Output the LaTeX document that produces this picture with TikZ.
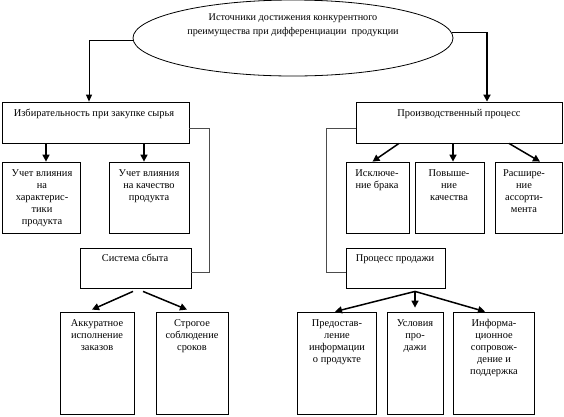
\documentclass[tikz,border=0pt]{standalone}
\usepackage{fontspec}
\setmainfont{Liberation Serif}
\usetikzlibrary{shapes.geometric,arrows.meta,calc}
\begin{document}
\begin{tikzpicture}[x=1pt,y=-1pt,
  box/.style={draw=black,line width=0.8pt,rectangle,inner sep=0pt},
  txt/.style={anchor=north,inner sep=0pt,align=center,font=\fontsize{10.4}{12}\selectfont},
  arr/.style={line width=1.5pt,-{Triangle[length=7pt,width=7pt]}},
  arrthin/.style={line width=0.9pt,-{Triangle[length=7pt,width=6pt]}},
  arrthick/.style={line width=1.8pt,-{Triangle[length=7pt,width=7pt]}},
  side/.style={draw=black!70,line width=0.8pt}]
\useasboundingbox (0,0) rectangle (564,416);
% ellipse
\node[draw=black,line width=0.8pt,ellipse,minimum width=320pt,minimum height=76pt,inner sep=0pt] (E) at (293,38) {};
\node[inner sep=0pt,align=center,font=\fontsize{10.2}{14}\selectfont,anchor=north] (Et) at (293,14) {Источники достижения конкурентного\\преимущества при дифференциации\ \ продукции};
% boxes: center, size
\node[box,minimum width=187pt,minimum height=41pt] (L) at (95.5,122.5) {};
\node[box,minimum width=206pt,minimum height=41pt] (R) at (459,122.5) {};
\node[box,minimum width=78pt,minimum height=71pt] (L1) at (41,197.5) {};
\node[box,minimum width=80pt,minimum height=71pt] (L2) at (149,197.5) {};
\node[box,minimum width=111pt,minimum height=40pt] (S) at (135.5,268) {};
\node[box,minimum width=74pt,minimum height=102pt] (S1) at (97,363) {};
\node[box,minimum width=72pt,minimum height=102pt] (S2) at (192,363) {};
\node[box,minimum width=63pt,minimum height=71pt] (R1) at (377.5,197.5) {};
\node[box,minimum width=69pt,minimum height=71pt] (R2) at (449.5,197.5) {};
\node[box,minimum width=67pt,minimum height=71pt] (R3) at (528.5,197.5) {};
\node[box,minimum width=99pt,minimum height=40pt] (P) at (395.5,268) {};
\node[box,minimum width=79pt,minimum height=102pt] (P1) at (336.5,363) {};
\node[box,minimum width=56pt,minimum height=102pt] (P2) at (415,363) {};
\node[box,minimum width=81pt,minimum height=102pt] (P3) at (493.5,363) {};
% texts
\node[txt] (Lt) at (94,109) {Избирательность при закупке сырья};
\node[txt] (Rt) at (459,109) {Производственный процесс};
\node[txt] (L1t) at (42,169) {Учет влияния\\на\\характерис-\\тики\\продукта};
\node[txt] (L2t) at (149,169) {Учет влияния\\на качество\\продукта};
\node[txt] (St) at (135,254) {Система сбыта};
\node[txt] (S1t) at (97,319) {Аккуратное\\исполнение\\заказов};
\node[txt] (S2t) at (192,319) {Строгое\\соблюдение\\сроков};
\node[txt] (R1t) at (377,169) {Исключе-\\ние брака};
\node[txt] (R2t) at (449,169) {Повыше-\\ние\\качества};
\node[txt] (R3t) at (524,169) {Расшире-\\ние\\ассорти-\\мента};
\node[txt] (Pt) at (395,254) {Процесс продажи};
\node[txt] (P1t) at (337,319) {Предостав-\\ление\\информации\\о продукте};
\node[txt] (P2t) at (415,319) {Условия\\про-\\дажи};
\node[txt] (P3t) at (494,319) {Информа-\\ционное\\сопровож-\\дение и\\поддержка};
% ellipse connectors
\draw[arrthin] (E.181.4) -| ([xshift=-6.5pt]L.north);
\draw[arrthick] (E.2.2) -| ([xshift=28pt]R.north);
% side connectors
\draw[side] ([yshift=-5.5pt]L.east) -- ++(20,0) |- ([yshift=-4pt]S.east);
\draw[side] ([yshift=-5.5pt]R.west) -- ++(-29,0) |- ([yshift=-4pt]P.west);
% arrows L
\draw[arr] ([xshift=5pt]L1.north |- L.south) -- ([xshift=5pt]L1.north);
\draw[arr] ([xshift=-5pt]L2.north |- L.south) -- ([xshift=-5pt]L2.north);
% arrows R
\draw[arr] ([xshift=-60pt]R.south) -- ([xshift=-5pt]R1.north);
\draw[arr] ([xshift=3.5pt]R2.north |- R.south) -- ([xshift=3.5pt]R2.north);
\draw[arr] ([xshift=50pt]R.south) -- ([xshift=11.5pt]R3.north);
% arrows S
\draw[arr] ([xshift=-2.5pt,yshift=-3pt]S.south) -- ([xshift=-5pt,yshift=2pt]S1.north);
\draw[arr] ([xshift=7.5pt,yshift=-3pt]S.south) -- ([xshift=-5pt,yshift=2pt]S2.north);
% arrows P
\draw[arr] ([xshift=19.5pt,yshift=-3pt]P.south) -- ([xshift=-1.5pt]P1.north);
\draw[arr] ([xshift=19.5pt,yshift=-3pt]P.south) -- ([yshift=4pt]P2.north);
\draw[arr] ([xshift=19.5pt,yshift=-3pt]P.south) -- ([xshift=-8.5pt]P3.north);
\end{tikzpicture}
\end{document}
